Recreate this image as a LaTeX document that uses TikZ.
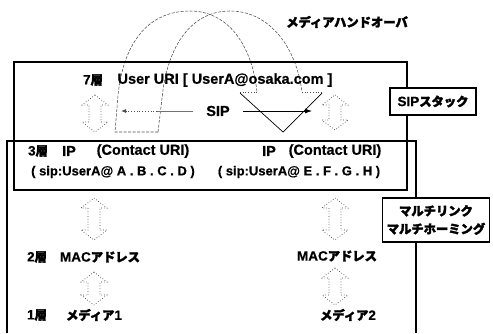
\documentclass[tikz,border=0pt]{standalone}
\usepackage{fontspec}
\setmainfont{Liberation Sans}[BoldFeatures={FakeBold=0.6}]
\newfontfamily\jp{Noto Sans CJK JP}[FakeBold=2.4]
\usetikzlibrary{arrows.meta}
\newcommand\jpt[1]{{\jp\fontsize{12.3}{14}\selectfont #1}}
\newcommand\hdarrow[3]{%
  \draw[hol] (#1,#2) -- ({#1+13},{#2+10}) -- ({#1+6},{#2+10}) -- ({#1+6},{#3-10}) -- ({#1+13},{#3-10})
    -- (#1,#3) -- ({#1-13},{#3-10}) -- ({#1-6},{#3-10}) -- ({#1-6},{#2+10}) -- ({#1-13},{#2+10}) -- cycle;}
\begin{document}
\begin{tikzpicture}[x=1pt,y=-1pt,
  lbl/.style={inner sep=0pt, font=\bfseries\fontsize{13.5}{15}\selectfont},
  big/.style={lbl, font=\bfseries\fontsize{14.5}{16}\selectfont},
  small/.style={lbl, font=\bfseries\fontsize{13}{15}\selectfont},
  box/.style={draw=black, line width=1.1pt},
  hol/.style={draw=black!75, dotted, line width=0.7pt},
  arch/.style={draw=black!70, line width=0.55pt, dash pattern=on 3pt off 1.5pt}]
\useasboundingbox (0,0) rectangle (493,333);
% arch (twisted handover arrow)
\draw[arch] (158,132) -- (115,132) -- (118,95) .. controls (124,40) and (150,11) .. (190,11)
  .. controls (228,11) and (252,45) .. (257,92);
\draw[arch] (158,132) -- (163,90) .. controls (170,40) and (195,11) .. (230,11)
  .. controls (268,11) and (296,45) .. (302,92);
\draw[black!70, dotted, line width=0.7pt] (240,92) -- (257,92) (302,92) -- (322,92);
\draw[black, line width=0.7pt] (240,93) -- (283,132) -- (322,93);
% boxes
\draw[box] (14,62) rectangle (407,190);
\draw[box] (7,333) -- (7,141) -- (416,141) -- (416,333);
% texts
\node[lbl] (handover) at (347,22) {\jpt{メディアハンドオーバ}};
\node[lbl] (l7) at (93,80) {7\jpt{層}};
\node[big] (uuri) at (225,80) {User URI [ UserA@osaka.com ]};
\node[big, inner xsep=13pt] (sip) at (218,111) {SIP};
\node[lbl] (l3) at (38,151) {3\jpt{層}};
\node[big] (ipa) at (69,151) {IP};
\node[big] (curia) at (143,151) {(Contact URI)};
\node[big] (ipb) at (269,151) {IP};
\node[big] (curib) at (335,151) {(Contact URI)};
\node[small] (sipa) at (113,172) {( sip:UserA@ A . B . C . D )};
\node[small] (sipb) at (299,172) {( sip:UserA@ E . F . G . H )};
\node[lbl] (l2) at (37,257) {2\jpt{層}};
\node[lbl] (maca) at (100,257) {MAC\jpt{アドレス}};
\node[lbl] (macb) at (337,256) {MAC\jpt{アドレス}};
\node[lbl] (l1) at (37,315) {1\jpt{層}};
\node[lbl] (meda) at (94,315) {\jpt{メディア}1};
\node[lbl] (medb) at (348,315) {\jpt{メディア}2};
\node[lbl, box, fill=white, minimum width=86pt, minimum height=27pt] (stack) at (433,101.5) {SIP\jpt{スタック}};
\node[box, fill=white, inner sep=0pt, align=center, minimum width=107pt, minimum height=44pt,
  font=\bfseries\jp\fontsize{12.3}{18}\selectfont] (multi) at (436,220) {マルチリンク\\マルチホーミング};
% SIP arrows
\coordinate (sipL) at (121,111);
\coordinate (sipM) at (157,111);
\coordinate (sipR) at (312,111);
\draw[black!55, line width=0.7pt] (sip.west) -- (sipM);
\draw[black!70, dotted, line width=0.8pt, -{Latex[length=5pt,width=4pt]}] (sipM) -- (sipL);
\draw[black, line width=0.8pt, -{Latex[length=7pt,width=5pt]}] (sip.east) -- (sipR);
% hollow double arrows
\hdarrow{95}{95}{132}
\hdarrow{335}{95}{130}
\hdarrow{94}{198}{240}
\hdarrow{335}{198}{240}
\hdarrow{94}{272}{305}
\hdarrow{335}{268}{305}
\end{tikzpicture}
\end{document}
